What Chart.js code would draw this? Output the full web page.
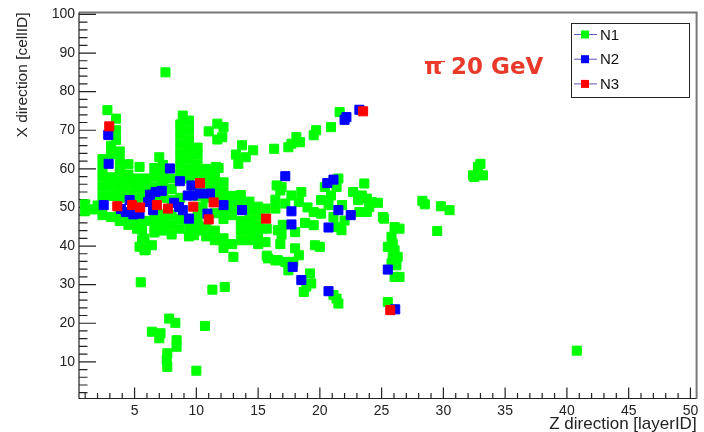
<!DOCTYPE html>
<html>
<head>
<meta charset="utf-8">
<script src="https://cdn.jsdelivr.net/npm/chart.js@4.4.1/dist/chart.umd.min.js"></script>
<style>
  html, body { margin: 0; padding: 0; background: #fff; }
  #wrap { width: 704px; height: 432px; position: relative; }
</style>
</head>
<body>
<div id="wrap"><canvas id="hitsChart"></canvas></div>
<script>
// axis ticks
const xTicks = [5, 10, 15, 20, 25, 30, 35, 40, 45, 50];
const yTicks = [10, 20, 30, 40, 50, 60, 70, 80, 90, 100];
const seriesNames = ['N1', 'N2', 'N3'];
const seriesColors = ['#00ff00', '#0000ff', '#ff0000'];

// hits as [layerID, cellID]
const n1Hits = [
  [1.0,49.0],[1.0,50.8],[1.7,49.5],[2.0,50.5],
  [2.4,48.0],[2.4,53.0],[2.4,55.5],[2.4,58.0],[2.4,60.3],[2.4,62.5],
  [3.1,47.5],[3.1,53.0],[3.1,55.5],[3.1,57.8],[3.1,63.8],[3.1,66.0],[3.5,73.0],[2.8,75.2],[3.5,70.0],[3.5,67.5],
  [3.8,46.5],[3.8,48.5],[3.8,52.5],[3.8,54.5],[3.8,57.0],[3.8,59.5],[3.8,62.0],[3.8,64.5],
  [4.5,45.5],[4.5,47.5],[4.5,53.5],[4.5,56.0],[4.5,58.5],[4.5,61.2],
  [5.2,44.5],[5.2,46.5],[5.2,52.5],[5.2,55.0],[5.2,57.5],[5.4,60.5],
  [5.9,39.0],[5.6,41.5],[5.6,44.2],[5.9,46.5],[5.9,52.8],[5.9,55.3],[5.9,57.5],
  [6.6,43.5],[6.6,46.0],[6.6,48.0],[6.6,52.5],[6.6,55.2],[6.6,57.8],[6.6,60.2],[7.0,63.0],
  [7.3,44.0],[7.3,46.5],[7.3,48.2],[7.3,52.5],[7.3,56.2],[7.3,58.5],[7.3,61.0],
  [8.0,43.0],[8.0,45.5],[8.0,48.0],[8.0,52.0],[8.0,54.8],[8.0,57.5],
  [8.7,44.5],[8.7,47.0],[8.7,52.5],[8.7,59.0],[8.7,61.5],[8.7,64.0],[8.7,66.5],[8.7,69.0],[8.7,71.5],[8.9,73.8],
  [9.4,42.5],[9.5,44.8],[9.4,57.5],[9.4,60.0],[9.4,62.5],[9.4,65.0],[9.4,67.5],[9.4,70.0],[9.4,72.5],
  [10.1,44.0],[10.1,46.5],[10.1,48.5],[10.1,53.0],[10.1,55.0],[10.1,58.5],[10.1,61.0],[10.1,63.5],[10.1,65.5],
  [10.8,42.5],[10.8,45.0],[10.5,50.2],[10.8,52.5],[10.8,55.0],[10.8,57.5],[10.8,60.0],
  [11.5,41.5],[11.5,44.0],[11.5,48.5],[11.5,53.0],[11.5,55.5],[11.5,58.0],[11.6,60.5],
  [12.2,39.5],[12.2,42.0],[12.2,47.0],[12.2,49.0],[12.2,51.5],[12.2,54.0],[12.2,56.5],
  [13.0,37.2],[12.9,40.5],[12.9,48.0],[12.9,50.5],[12.9,53.0],
  [13.6,41.5],[13.6,44.0],[13.6,46.5],[13.6,51.0],[13.6,53.2],
  [14.3,41.5],[14.3,44.0],[14.3,46.5],[14.3,49.0],[14.3,51.5],
  [15.0,40.5],[15.0,43.0],[15.0,45.5],[15.0,48.0],[15.0,50.2],
  [15.7,37.5],[15.6,41.0],[15.7,44.5],[15.6,49.7],
  [16.4,36.3],[16.8,40.5],[16.6,44.1],[16.4,49.7],[16.4,52.0],[16.5,55.7],
  [7.5,85.0],
  [11.0,69.7],[11.7,71.7],[12.2,70.8],[12.1,68.2],[11.7,67.6],
  [13.7,66.1],[13.2,63.7],[14.6,64.8],[14.0,63.0],[13.4,61.3],[11.8,60.2],[11.4,59.2],
  [16.3,65.2],[17.45,65.6],[17.7,66.5],[18.4,66.9],[18.1,68.2],[19.5,68.7],[19.7,70.0],[20.9,70.8],[21.6,74.7],
  [16.9,55.3],[16.8,54.4],[17.7,53.1],[18.5,54.0],[18.3,51.4],[17.2,51.0],
  [18.0,43.6],[18.8,46.0],[19.0,50.0],[19.5,48.8],[19.5,45.4],[19.6,40.2],[20.0,39.8],
  [17.0,45.5],[16.9,43.0],
  [17.2,35.9],[17.45,33.7],[18.0,39.4],[18.3,37.6],[17.85,35.9],
  [19.2,32.9],[19.3,30.3],[18.7,28.1],[18.9,29.5],
  [21.1,27.3],[21.35,26.4],[21.5,25.1],
  [20.4,55.3],[21.35,55.3],[20.9,53.1],[20.1,51.9],[20.7,50.6],[21.8,50.6],[20.1,48.4],[21.1,47.5],
  [21.35,44.9],[21.75,44.1],[22.0,46.6],[21.5,57.5],
  [22.7,54.0],[23.1,51.9],[23.4,53.1],[23.8,52.3],[23.6,56.2],[24.2,51.4],[23.8,48.8],[23.2,48.8],
  [24.0,50.1],[24.7,51.2],[25.1,47.5],
  [26.05,44.9],[26.45,44.5],[25.8,42.4],[25.9,40.6],[25.5,39.8],[26.05,38.9],[25.9,37.2],[26.3,37.2],
  [25.8,35.5],[26.2,35.0],[26.45,32.0],[26.05,32.0],[25.5,25.5],[25.2,47.1],
  [28.3,51.7],[28.5,50.8],[29.8,50.3],[30.5,49.3],[29.5,43.9],
  [32.5,57.9],[32.8,60.5],[33.0,61.3],[32.4,58.3],[33.2,58.3],
  [40.8,12.9],
  [5.5,30.6],[7.8,21.2],[8.3,20.1],[6.4,17.8],[7.1,17.4],[7.0,16.1],[8.4,15.6],[8.4,13.9],
  [7.65,12.2],[7.6,10.5],[7.65,8.7],[10.7,19.3],[10.0,7.7],[11.3,28.7],[12.3,29.4],
  [5.4,39.8],[5.8,38.9],[6.4,40.2],[5.6,44.5],[5.8,41.9],[9.8,42.8],
  [15.8,36.8],[16.6,36.3]
];
const n2Hits = [
  [2.87,68.8],[2.9,61.3],[7.86,60.1],[8.67,56.8],[9.6,55.7],[11.1,53.6],[17.2,58.1],
  [2.5,50.6],[4.3,48.8],[4.6,51.9],[5.4,48.4],[6.1,51.4],[6.25,53.3],[6.7,54.0],[7.2,54.3],
  [8.6,50.1],[8.9,49.3],[9.4,47.1],[9.3,53.1],[10.3,53.6],[9.7,53.1],[10.9,48.4],[12.2,50.6],[13.7,49.3],
  [3.9,49.6],[4.9,48.2],[6.5,49.3],[8.2,51.2],
  [17.7,49.0],[17.7,45.6],[17.8,34.6],[18.5,31.2],[20.7,28.3],
  [20.6,56.3],[21.1,57.2],[21.5,49.3],[22.5,48.0],[20.7,44.8],
  [25.5,33.9],[26.1,23.6],[22.0,72.7],[22.15,73.4],[23.2,75.3]
];
const n3Hits = [
  [2.95,71.0],[10.3,56.3],[3.6,50.3],[4.8,50.6],[5.45,50.0],[6.8,50.6],[7.7,49.7],[9.75,50.2],
  [11.4,51.3],[11.0,46.9],[15.65,47.1],[23.5,74.9],[25.7,23.4]
];

const toPoints = hits => hits.map(h => ({x: h[0], y: h[1]}));

// ROOT-like frame, inward ticks, legend box and the label
const rootDecor = {
  id: 'rootDecor',
  beforeDatasetsDraw(chart) {
    const {ctx, chartArea: a, scales: {x, y}} = chart;
    ctx.save();
    ctx.strokeStyle = '#777';
    ctx.lineWidth = 2;
    ctx.beginPath();
    ctx.moveTo(a.left, a.top);
    ctx.lineTo(a.right, a.top);
    ctx.lineTo(a.right, a.bottom);
    ctx.stroke();

    ctx.strokeStyle = '#222';
    ctx.lineWidth = 1.2;
    ctx.beginPath();
    ctx.moveTo(a.left, a.top);
    ctx.lineTo(a.left, a.bottom);
    ctx.lineTo(a.right, a.bottom);
    for (let v = 1; v <= 50; v++) {
      const px = x.getPixelForValue(v);
      ctx.moveTo(px, a.bottom);
      ctx.lineTo(px, a.bottom - (v % 5 === 0 ? 11 : 5.5));
    }
    for (let v = 2; v <= 100; v += 2) {
      const py = y.getPixelForValue(v);
      ctx.moveTo(a.left, py);
      ctx.lineTo(a.left + (v % 10 === 0 ? 17 : 8.5), py);
    }
    ctx.stroke();
    ctx.restore();
  },
  afterDraw(chart) {
    const ctx = chart.ctx;
    ctx.save();
    // legend
    ctx.fillStyle = '#fff';
    ctx.fillRect(571, 23, 118, 74);
    ctx.strokeStyle = '#222';
    ctx.lineWidth = 1;
    ctx.strokeRect(571.5, 23.5, 118, 74);
    ctx.font = '15px "Liberation Sans"';
    ctx.textBaseline = 'middle';
    seriesNames.forEach((name, i) => {
      const ly = 34.5 + i * 24.7;
      ctx.strokeStyle = '#5a5ab4';
      ctx.beginPath();
      ctx.moveTo(574, ly);
      ctx.lineTo(597, ly);
      ctx.stroke();
      ctx.fillStyle = seriesColors[i];
      ctx.fillRect(581, ly - 4, 8, 8);
      ctx.fillStyle = '#111';
      ctx.fillText(name, 600, ly + 1);
    });
    // beam label
    ctx.fillStyle = '#e8392b';
    ctx.textBaseline = 'alphabetic';
    ctx.font = 'bold 23px "DejaVu Sans"';
    ctx.fillText('π', 424, 74);
    ctx.font = 'bold 11px "DejaVu Sans"';
    ctx.fillText('\u2212', 437, 65);
    ctx.font = 'bold 23px "DejaVu Sans"';
    ctx.fillText('20 GeV', 451, 74);
    ctx.restore();
  }
};

const makeSet = (i, hits, order) => ({
  label: seriesNames[i],
  data: toPoints(hits),
  order: order,
  pointStyle: 'rect',
  pointRadius: 6.4,
  pointBackgroundColor: seriesColors[i],
  pointBorderColor: seriesColors[i],
  pointBorderWidth: 1,
  backgroundColor: seriesColors[i],
  borderColor: seriesColors[i]
});

new Chart(document.getElementById('hitsChart'), {
  type: 'scatter',
  data: {
    datasets: [
      makeSet(0, n1Hits, 3),
      makeSet(1, n2Hits, 2),
      makeSet(2, n3Hits, 1)
    ]
  },
  options: {
    responsive: true,
    maintainAspectRatio: false,
    animation: false,
    events: [],
    layout: { padding: { left: 0, top: 12.5, right: 3, bottom: 0 } },
    plugins: {
      legend: { display: false },
      tooltip: { enabled: false }
    },
    scales: {
      x: {
        type: 'linear',
        min: 0.5,
        max: 50.5,
        afterBuildTicks: s => { s.ticks = xTicks.map(v => ({ value: v })); },
        afterFit: s => { s.height = 33.5; },
        grid: { display: false, drawTicks: false },
        border: { display: false },
        ticks: { color: '#222', font: { family: 'Liberation Sans', size: 14 }, padding: 4, maxRotation: 0, autoSkip: false },
        title: { display: true, text: 'Z direction [layerID]', align: 'end', color: '#222',
                 font: { family: 'Liberation Sans', size: 17 }, padding: { top: 0, bottom: -3 } }
      },
      y: {
        type: 'linear',
        min: 0.5,
        max: 100.5,
        afterBuildTicks: s => { s.ticks = yTicks.map(v => ({ value: v })); },
        afterFit: s => { s.width = 79; },
        grid: { display: false, drawTicks: false },
        border: { display: false },
        ticks: { color: '#222', font: { family: 'Liberation Sans', size: 14 }, padding: 4 },
        title: { display: true, text: 'X direction [cellID]', align: 'end', color: '#222',
                 font: { family: 'Liberation Sans', size: 15.5 }, padding: { top: 13, bottom: 0 } }
      }
    }
  },
  plugins: [rootDecor]
});
</script>
</body>
</html>
